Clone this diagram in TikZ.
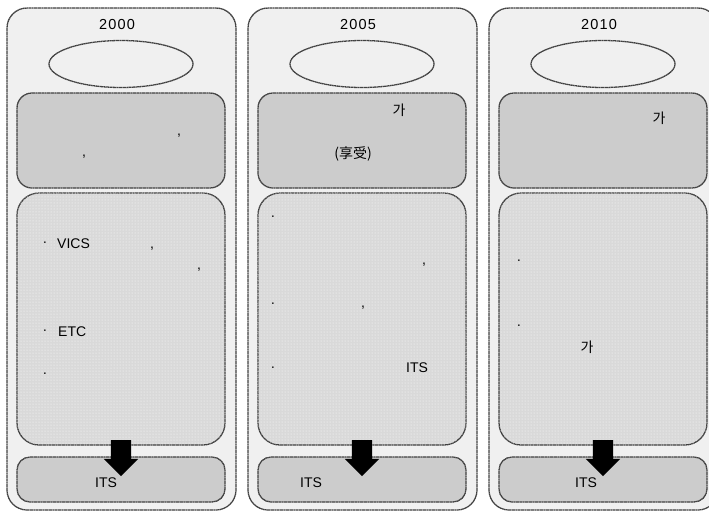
\documentclass[tikz,border=0pt]{standalone}
\usepackage{fontspec}
\setmainfont{Liberation Sans}
\newfontfamily\kr{Noto Sans CJK KR}
\usetikzlibrary{shapes.geometric,shapes.arrows,patterns}

\begin{document}
\begin{tikzpicture}[x=1pt,y=-1pt,font=\fontsize{14}{16}\selectfont]
  \tikzstyle{edge}=[draw=black!75,line width=1.3pt,dash pattern=on 1.5pt off 0.4pt]
  \tikzstyle{panel}=[edge,rectangle,rounded corners=20pt,fill=black!6,minimum width=229pt,minimum height=502pt,inner sep=0pt]
  \tikzstyle{oval}=[edge,ellipse,fill=black!6,minimum width=144pt,minimum height=47pt,inner sep=0pt]
  \tikzstyle{headbox}=[edge,rectangle,rounded corners=15pt,fill=black!20,minimum width=208pt,minimum height=95pt,inner sep=0pt]
  \tikzstyle{listbox}=[edge,rectangle,rounded corners=22pt,fill=black!15,minimum width=208pt,minimum height=252pt,inner sep=0pt,
    postaction={pattern=dots,pattern color=white}]
  \tikzstyle{footbox}=[edge,rectangle,rounded corners=13pt,fill=black!20,minimum width=208pt,minimum height=45pt,inner sep=0pt]
  \tikzstyle{bigarrow}=[single arrow,fill=black,draw=none,rotate=-90,minimum height=36pt,inner sep=10pt,
    single arrow head extend=7pt]
  \tikzstyle{txt}=[inner sep=0pt]
  \tikzstyle{yeartxt}=[inner sep=0pt,font=\fontsize{14.5}{16}\selectfont\addfontfeature{LetterSpace=8}]

  \clip (0,0) rectangle (709,512);

  % panels
  \foreach \yr [count=\i, evaluate=\i as \cx using 121+241*(\i-1)] in {2000,2005,2010} {
    \node[panel] (panel\i) at (\cx+0.5,259) {};
    \node[yeartxt] (year\i) at (\cx-4,25) {\yr};
    \node[oval] (oval\i) at (\cx,64) {};
    \node[headbox] (head\i) at (\cx,140.5) {};
    \node[listbox] (list\i) at (\cx,319) {};
    \node[footbox] (foot\i) at (\cx,479.5) {};
    \node[bigarrow] (arr\i) at (\cx,453) {};
  }

  % 2000
  \node[txt] (c1a) at (179,136) {,};
  \node[txt] (c1b) at (84,157) {,};
  \node[txt] (b1a) at (45,244) {·};
  \node[txt,anchor=west] (vics) at (57,244) {VICS};
  \node[txt] (c1c) at (152,249) {,};
  \node[txt] (c1d) at (199,270) {,};
  \node[txt] (b1b) at (45,332) {·};
  \node[txt,anchor=west] (etc) at (58,332) {ETC};
  \node[txt] (b1c) at (45,375) {·};
  \node[txt] (its1) at (106,483) {ITS};

  % 2005
  \node[txt] (ga2) at (399,110) {\kr 가};
  \node[txt] (enjoy) at (353,154) {\kr (享受)};
  \node[txt] (b2a) at (273,218) {·};
  \node[txt] (c2a) at (424,265) {,};
  \node[txt] (b2b) at (273,305) {·};
  \node[txt] (c2b) at (363,308) {,};
  \node[txt] (b2c) at (273,369) {·};
  \node[txt] (its2a) at (417,368) {ITS};
  \node[txt] (its2b) at (311,483) {ITS};

  % 2010
  \node[txt] (ga3a) at (659,118) {\kr 가};
  \node[txt] (b3a) at (519,262) {·};
  \node[txt] (b3b) at (519,327) {·};
  \node[txt] (ga3b) at (587,347) {\kr 가};
  \node[txt] (its3) at (586,483) {ITS};

\end{tikzpicture}
\end{document}
